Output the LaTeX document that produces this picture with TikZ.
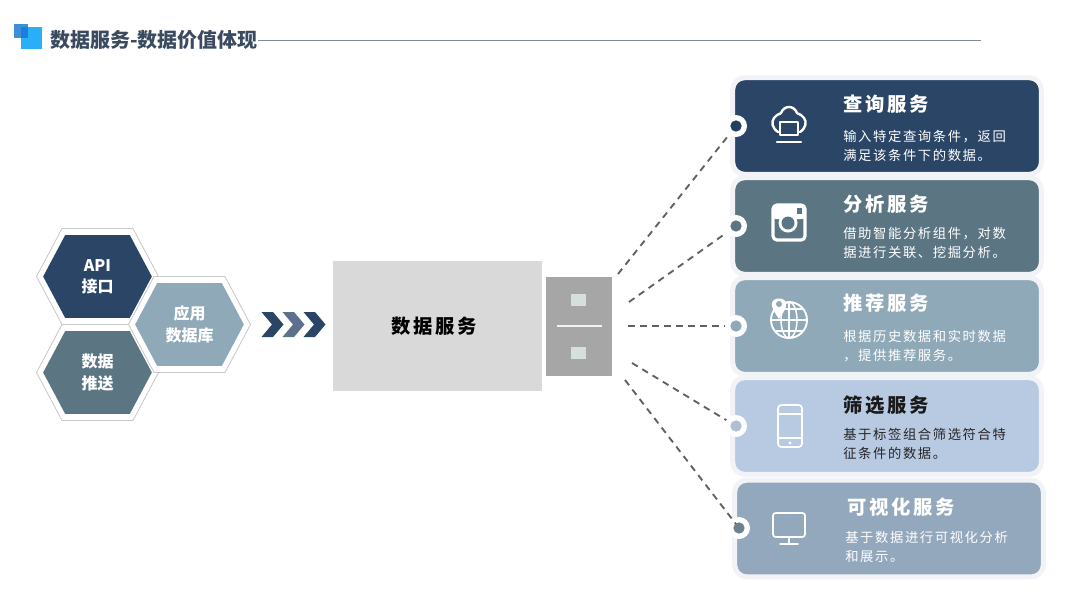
\documentclass[tikz,border=0pt]{standalone}
\usepackage{fontspec}
\setmainfont{Noto Sans CJK SC}
\newfontfamily\cjkwide[LetterSpace=14]{Noto Sans CJK SC}
\newfontfamily\cjkbody[LetterSpace=12]{Noto Sans CJK SC}
\usetikzlibrary{positioning,shapes.symbols}
\definecolor{navy}{HTML}{2A4565}
\definecolor{slate}{HTML}{5C7583}
\definecolor{steel}{HTML}{8FA9B9}
\definecolor{pale}{HTML}{B8C9E2}
\definecolor{mist}{HTML}{93A8BD}
\definecolor{halo}{HTML}{F1F3F6}
\definecolor{ink}{HTML}{3A4A60}
\definecolor{chevmid}{HTML}{5C6F8D}
\definecolor{logolight}{HTML}{2AAEF5}
\definecolor{logodark}{HTML}{3D8FD9}
\definecolor{logomix}{HTML}{1A7FD8}
\definecolor{rulegray}{HTML}{7F8C99}
\definecolor{holefill}{HTML}{D5E0DE}

\begin{document}
\begin{tikzpicture}[x=0.75pt,y=-0.75pt,on grid,node distance=75pt,
   card/.style={rectangle,rounded corners=9pt,draw=halo,line width=3.75pt,minimum width=231.5pt,minimum height=72.5pt,fill=#1},
   cardtitle/.style={anchor=west,inner sep=0pt,text=#1,font=\cjkwide\bfseries\fontsize{14.5}{16}\selectfont},
   cardbody/.style={anchor=west,inner sep=0pt,align=left,text=#1,font=\cjkbody\fontsize{10}{14.25}\selectfont},
   ring/.style={circle,fill=white,inner sep=0pt,minimum size=16.5pt},
   pip/.style={circle,fill=#1,inner sep=0pt,minimum size=8.5pt},
   hexring/.style={signal,signal to=east and west,signal pointer angle=124,draw=black!22,line width=0.6pt,fill=white,inner sep=0pt,minimum width=91.5pt,minimum height=72pt},
   hexcell/.style={signal,signal to=east and west,signal pointer angle=124,fill=#1,inner sep=0pt,minimum width=81.5pt,minimum height=62pt,align=center,text=white,font=\bfseries\fontsize{12}{16}\selectfont},
   chevron/.style={signal,signal to=east,signal from=west,signal pointer angle=100,fill=#1,inner sep=0pt,minimum width=16.5pt,minimum height=18.75pt},
   plughole/.style={rectangle,fill=holefill,minimum width=11.25pt,minimum height=9pt,inner sep=0pt},
   fanline/.style={draw=black!62,line width=1.4pt,dash pattern=on 5pt off 4pt},
   iconline/.style={draw=white,line width=1.8pt,line cap=round,line join=round}]
   \useasboundingbox (0,0) rectangle (1080,608);

   % header
   \fill[logolight] (21,27) rectangle (42,49);
   \fill[logodark] (14,24) rectangle (28,38);
   \fill[logomix] (21,27) rectangle (28,38);
   \node[anchor=west,inner sep=0pt,text=ink,font=\bfseries\fontsize{15}{18}\selectfont] (headline) at (50,40) {数据服务-数据价值体现};
   \coordinate (ruleend) at (981,40);
   \draw[rulegray,line width=0.7pt] (headline.east) -- (ruleend);

   % hexagons
   \node[hexring] (apiring) at (97.5,276.5) {};
   \node[hexring] (pushring) [below=72pt of apiring] {};
   \node[hexring] (dbring) at (189.5,324.5) {};
   \node[hexcell=navy] (api) at (apiring) {API\\接口};
   \node[hexcell=slate] (push) at (pushring) {数据\\推送};
   \node[hexcell=steel] (db) at (dbring) {应用\\数据库};

   % chevrons
   \node[chevron=navy] (chev1) at (272.5,324.5) {};
   \node[chevron=chevmid] (chev2) [right=15.75pt of chev1] {};
   \node[chevron=navy] (chev3) [right=15.75pt of chev2] {};

   % gray block and plug
   \node[rectangle,fill=black!15,minimum width=156.75pt,minimum height=97.5pt,inner sep=0pt,font=\cjkwide\bfseries\fontsize{14.5}{16}\selectfont] (block) at (437.5,326) {\kern-4.5pt 数据服务};
   \node[rectangle,fill=black!35,minimum width=49.5pt,minimum height=74.25pt,inner sep=0pt] (plug) at (579,326.5) {};
   \node[plughole] (holeup) at (578.5,300) {};
   \node[plughole] (holedown) at (578.5,353) {};
   \coordinate (seamleft) at (557,326);
   \coordinate (seamright) at (602,326);
   \draw[white!90!gray,line width=0.8pt] (seamleft) -- (seamright);

   % cards
   \node[card=navy] (card1) at (887,126) {};
   \node[card=slate] (card2) [below=of card1] {};
   \node[card=steel] (card3) [below=of card2] {};
   \node[card=pale] (card4) [below=of card3] {};
   \node[card=mist] (card5) [below=of card4,xshift=1.5pt,yshift=-1.9pt] {};

   \node[ring] (dot1) at (736,126) {};
   \node[ring] (dot2) at (736,226) {};
   \node[ring] (dot3) at (736,326) {};
   \node[ring] (dot4) at (736,426) {};
   \node[ring] (dot5) at (739,528) {};

   % dashed fan
   \coordinate (fan1) at (618,274);
   \coordinate (fan2) at (629,302);
   \coordinate (fan3) at (628,326);
   \coordinate (fan4) at (632,363);
   \coordinate (fan5) at (625,380);
   \path[fanline]
    (fan1) edge (dot1)
    (fan2) edge (dot2)
    (fan3) edge (dot3)
    (fan4) edge (dot4)
    (fan5) edge [shorten >=-6pt] (dot5);

   \node[pip=navy!90!black] (pip1) at (dot1) {};
   \node[pip=slate] (pip2) at (dot2) {};
   \node[pip=steel] (pip3) at (dot3) {};
   \node[pip=pale!85!gray] (pip4) at (dot4) {};
   \node[pip=slate!90!white] (pip5) at (dot5) {};

   % card texts
   \node[cardtitle=white] (title1) at (843,104) {查询服务};
   \node[cardbody=white] (body1) at (843,145.5) {输入特定查询条件，返回\\满足该条件下的数据。};
   \node[cardtitle=white] (title2) at (843,204) {分析服务};
   \node[cardbody=white] (body2) at (843,242.5) {借助智能分析组件，对数\\据进行关联、挖掘分析。};
   \node[cardtitle=white] (title3) at (843,303) {推荐服务};
   \node[cardbody=white] (body3) at (843,346) {根据历史数据和实时数据\\，提供推荐服务。};
   \node[cardtitle=black!90] (title4) at (843,405) {筛选服务};
   \node[cardbody=black!85] (body4) at (843,444) {基于标签组合筛选符合特\\征条件的数据。};
   \node[cardtitle=white] (title5) at (847,507) {可视化服务};
   \node[cardbody=white] (body5) at (845,546.5) {基于数据进行可视化分析\\和展示。};

   % icons
   \draw[iconline] (778,132) .. controls (772,128) and (771,122) .. (774,118) .. controls (778,113) and (781,114) .. (781,113) .. controls (784,105) and (794,105) .. (797,113) .. controls (797,114) and (800,113) .. (804,118) .. controls (807,122) and (806,128) .. (800,132);
   \draw[iconline] (780,122) rectangle (798,135);
   \draw[iconline] (777,142) -- (801,142);

   \draw[iconline,line width=2.4pt,rounded corners=3pt] (773,205) rectangle (805,240);
   \fill[white,rounded corners=2pt] (773,205) rectangle (805,219);
   \fill[slate] (797,208) rectangle (802,214);
   \fill[white] (788,223) circle[radius=9.5];
   \fill[slate] (788,223) circle[radius=6.5];

   \draw[iconline,line width=1.4pt] (789,320) circle[radius=18];
   \draw[iconline,line width=1.1pt] (789,320) ellipse[x radius=8,y radius=18];
   \draw[iconline,line width=1.1pt] (789,302) -- (789,338) (771,320) -- (807,320) (775,309) -- (803,309) (775,331) -- (803,331);
   \fill[white] (779,319) .. controls (773,310) and (771,306) .. (772,303) .. controls (773,297) and (785,297) .. (786,303) .. controls (787,306) and (785,310) .. (779,319);
   \fill[steel] (779,304) circle[radius=3];

   \draw[iconline,line width=1.3pt,rounded corners=2.5pt] (778,405) rectangle (802,447);
   \draw[iconline,line width=1.1pt] (778,414) -- (802,414) (778,438) -- (802,438);
   \fill[white] (790,443) circle[radius=1.6];

   \draw[iconline,line width=1.3pt,rounded corners=2pt] (773,513) rectangle (805,537);
   \draw[iconline,line width=1.1pt] (789,537) -- (789,543) (780,544) -- (798,544);
\end{tikzpicture}
\end{document}
